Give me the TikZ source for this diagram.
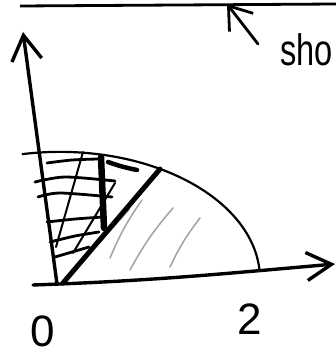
\documentclass[tikz,border=0pt]{standalone}
\usepackage{fontspec}
\setmainfont{Liberation Sans}
\usetikzlibrary{arrows.meta}

\begin{document}
\begin{tikzpicture}[x=1pt,y=1pt,
		axis/.style={line width=3.4pt,line cap=round},
		arcline/.style={line width=2.2pt},
		hatch/.style={line width=2.8pt,line cap=round},
		pencil/.style={line width=1.6pt,black!35,line cap=round},
		hand/.style={font=\fontsize{44}{48}\selectfont,inner sep=0pt}]
	\useasboundingbox (0,0) rectangle (336,357);
	\clip (0,0) rectangle (336,357);
	% axes
	\coordinate (O) at (57,73);
	\coordinate (ytip) at (23,325);
	\coordinate (xstart) at (33,72);
	\coordinate (xtip) at (335,93);
	\draw[axis,-{Straight Barb[length=25pt,width=30pt]}] (O) -- (ytip);
	\draw[axis,-{Straight Barb[length=25pt,width=28pt]}] (xstart) to[out=2,in=185] (xtip);
	% top line and its pointer
	\coordinate (topL) at (20,351);
	\coordinate (topR) at (336,353);
	\coordinate (ptrTail) at (258,313);
	\coordinate (ptrTip) at (227,353);
	\draw[line width=2.8pt] (topL) -- (topR);
	\draw[axis,line width=2.8pt,-{Straight Barb[length=21pt,width=30pt]}] (ptrTail) -- (ptrTip);
	% quarter ellipse
	\coordinate (arcR) at (259.5,87);
	\draw[arcline] (arcR) arc[start angle=4,end angle=101,x radius=200pt,y radius=127pt];
	% hatching left of the cut
	\draw[hatch] plot[smooth] coordinates {(47,194) (72,197) (98,198)};
	\draw[hatch] plot[smooth] coordinates {(35,175) (65,180) (115,176)};
	\draw[hatch] plot[smooth] coordinates {(38,160) (60,164) (112,160)};
	\draw[hatch] plot[smooth] coordinates {(47,135) (75,138) (103,140)};
	\draw[hatch] plot[smooth] coordinates {(50,115) (75,121) (99,125)};
	\draw[hatch] plot[smooth] coordinates {(55,100) (72,105) (89,110)};
	\draw[hatch,line width=2pt] (83,205) -- (56,110);
	\draw[hatch,line width=2pt] (115,174) -- (73,104);
	% light pencil strokes right of the cut
	\draw[pencil] (142,157) to[bend right=6] (110,99);
	\draw[pencil] (173,149) to[bend right=6] (130,87);
	\draw[pencil] (200,139) to[bend right=6] (170,90);
	\draw[black!55,line width=0.8pt,double=white,double distance=1.6pt] (129,149) -- (99,115);
	% the cut and the bar
	\coordinate (cutLo) at (63,74);
	\coordinate (cutHi) at (160,188);
	\coordinate (barTop) at (101,200);
	\coordinate (barBot) at (104,129);
	\draw[line width=5pt,line cap=round] (cutLo) -- (cutHi);
	\draw[line width=6.5pt,line cap=round] (barTop) -- (barBot);
	\draw[line width=4.5pt,line cap=round] (108,195) to[bend right=4] (137,187);
	% labels
	\node[hand] (zero) at (43,26) {0};
	\node[hand] (two) at (250,38) {2};
	\node[hand,anchor=base west] (sho) at (280,291) {\scalebox{0.74}[1]{sho}};
\end{tikzpicture}
\end{document}
